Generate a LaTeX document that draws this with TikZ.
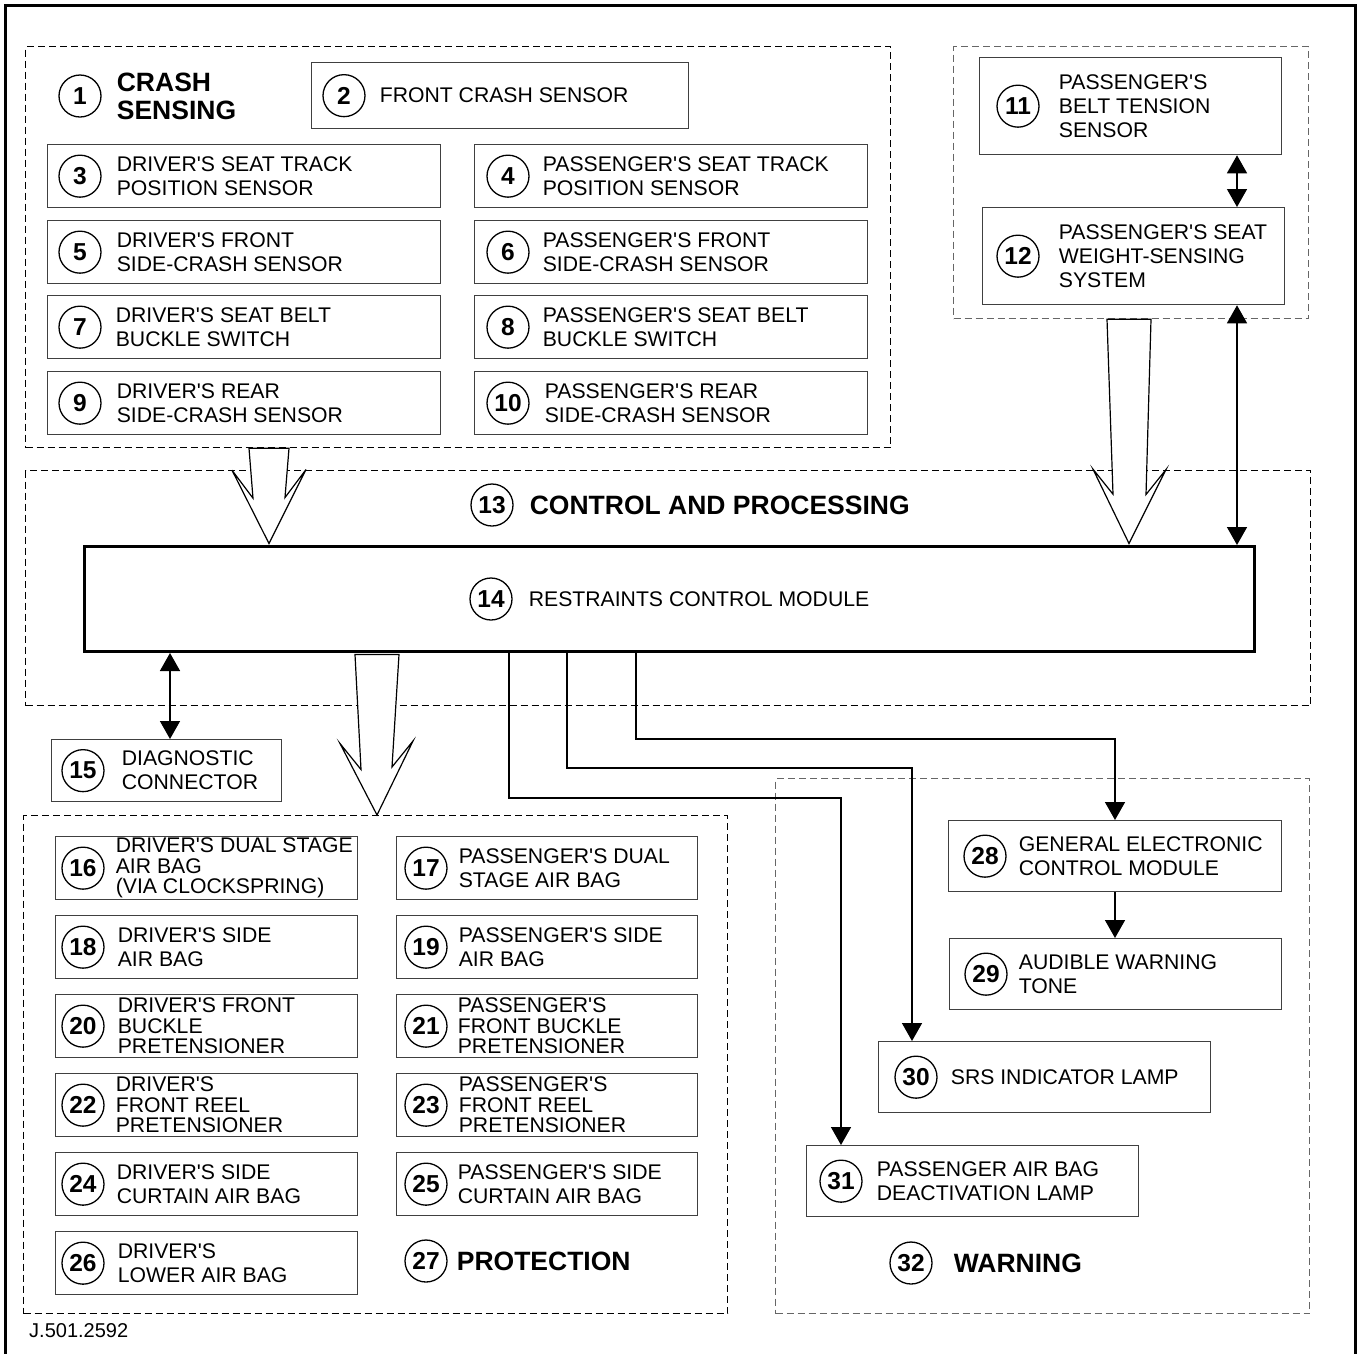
\documentclass[tikz,border=0pt]{standalone}
\usepackage{fontspec}
\setmainfont{Liberation Sans}[Ligatures=TeXOff]
\usepackage{tikz}
\usetikzlibrary{positioning, arrows.meta}

\tikzset{
    group/.style={draw, line width=1.2pt, dash pattern=on 7pt off 4pt, anchor=north west, inner sep=0pt},
    box/.style={draw=black!75, line width=1.3pt, anchor=north west, inner sep=0pt},
    num/.style={draw, circle, line width=1.3pt, minimum size=42pt, inner sep=0pt, font=\fontsize{24.5}{24}\selectfont\bfseries},
    lbl/.style={align=left, inner sep=0pt, font=\fontsize{21.2}{24}\selectfont},
    lblc/.style={align=left, inner sep=0pt, font=\fontsize{21.2}{20.5}\selectfont},
    head/.style={align=left, inner sep=0pt, font=\fontsize{26.5}{28}\selectfont\bfseries},
    conn/.style={line width=1.5pt},
    hollow/.style={draw, fill=white, line width=1.2pt}
}

\begin{document}
\begin{tikzpicture}[x=1pt, y=-1pt, >={Triangle[length=18pt,width=20pt]}]
    \useasboundingbox (0,0) rectangle (1359,1353);

    % Draw the outer frame, open at the bottom
    \draw[line width=3pt] (5,1365) -- (5,5) -- (1355,5) -- (1355,1365);

    % Draw the dashed group frames
    \node[group, minimum width=865, minimum height=401] (crash) at (25,46) {};
    \node[group, draw=black!60, minimum width=355, minimum height=272] (belt) at (953,46) {};
    \node[group, minimum width=1285, minimum height=235] (ctrl) at (25,470) {};
    \node[group, minimum width=704, minimum height=498] (protect) at (23,815) {};
    \node[group, draw=black!60, minimum width=534, minimum height=535] (warn) at (775,778) {};

    % Crash sensing
    \node[num] (n1) at (80,96) {1};
    \node[head, right=15pt of n1] (t1) {CRASH\\SENSING};
    \node[box, minimum width=377, minimum height=66] (b2) at (311,62) {};
    \node[num] (n2) at ([xshift=33]b2.west) {2};
    \node[lbl, right=14pt of n2] (t2) {FRONT CRASH SENSOR};
    \node[box, minimum width=393, minimum height=63] (b3) at (47,144) {};
    \node[num] (n3) at ([xshift=33]b3.west) {3};
    \node[lbl, right=15pt of n3] (t3) {DRIVER'S SEAT TRACK\\POSITION SENSOR};
    \node[box, minimum width=393, minimum height=63] (b4) at (474,144) {};
    \node[num] (n4) at ([xshift=34]b4.west) {4};
    \node[lbl, right=13pt of n4] (t4) {PASSENGER'S SEAT TRACK\\POSITION SENSOR};
    \node[box, minimum width=393, minimum height=63] (b5) at (47,220) {};
    \node[num] (n5) at ([xshift=33]b5.west) {5};
    \node[lbl, right=15pt of n5] (t5) {DRIVER'S FRONT\\SIDE-CRASH SENSOR};
    \node[box, minimum width=393, minimum height=63] (b6) at (474,220) {};
    \node[num] (n6) at ([xshift=34]b6.west) {6};
    \node[lbl, right=13pt of n6] (t6) {PASSENGER'S FRONT\\SIDE-CRASH SENSOR};
    \node[box, minimum width=393, minimum height=63] (b7) at (47,295) {};
    \node[num] (n7) at ([xshift=33]b7.west) {7};
    \node[lbl, right=14pt of n7] (t7) {DRIVER'S SEAT BELT\\BUCKLE SWITCH};
    \node[box, minimum width=393, minimum height=63] (b8) at (474,295) {};
    \node[num] (n8) at ([xshift=34]b8.west) {8};
    \node[lbl, right=13pt of n8] (t8) {PASSENGER'S SEAT BELT\\BUCKLE SWITCH};
    \node[box, minimum width=393, minimum height=63] (b9) at (47,371) {};
    \node[num] (n9) at ([xshift=33]b9.west) {9};
    \node[lbl, right=15pt of n9] (t9) {DRIVER'S REAR\\SIDE-CRASH SENSOR};
    \node[box, minimum width=393, minimum height=63] (b10) at (474,371) {};
    \node[num] (n10) at ([xshift=34]b10.west) {10};
    \node[lbl, right=15pt of n10] (t10) {PASSENGER'S REAR\\SIDE-CRASH SENSOR};

    % Belt tension and seat weight
    \node[box, minimum width=302, minimum height=97] (b11) at (979,57) {};
    \node[num] (n11) at ([xshift=39]b11.west) {11};
    \node[lbl, right=19pt of n11] (t11) {PASSENGER'S\\BELT TENSION\\SENSOR};
    \node[box, minimum width=302, minimum height=97] (b12) at (982,207) {};
    \node[num] (n12) at ([xshift=36]b12.west) {12};
    \node[lbl, right=19pt of n12] (t12) {PASSENGER'S SEAT\\WEIGHT-SENSING\\SYSTEM};

    % Control and processing
    \node[num] (n13) at (492,505) {13};
    \node[head, right=16pt of n13] (t13) {CONTROL AND PROCESSING};
    \node[box, draw=black, line width=3pt, minimum width=1170, minimum height=105] (b14) at (83,545) {};
    \node[num] (n14) at ([xshift=408]b14.west) {14};
    \node[lbl, right=16pt of n14] (t14) {RESTRAINTS CONTROL MODULE};
    \node[box, minimum width=230, minimum height=62] (b15) at (51,739) {};
    \node[num] (n15) at ([xshift=32]b15.west) {15};
    \node[lbl, right=17pt of n15] (t15) {DIAGNOSTIC\\CONNECTOR};

    % Draw the big hollow arrows into and out of the module
    \draw[hollow] (crash.south -| 249,0) -- ++(4,50) -- ++(-21,-28) -- ([yshift=1.5pt]b14.north -| 269,0) -- ++(37,-74) -- ++(-21,28) -- (crash.south -| 289,0) -- cycle;
    \draw[hollow] (belt.south -| 1107,0) -- ++(6,175) -- ++(-20,-25) -- ([yshift=1.5pt]b14.north -| 1129,0) -- ++(37,-74) -- ++(-20,25) -- (belt.south -| 1151,0) -- cycle;
    \draw[hollow] ([yshift=-1.5pt]b14.south -| 355,0) -- ++(6,115) -- ++(-21,-26) -- (protect.north -| 377,0) -- ++(36,-74) -- ++(-21,26) -- ([yshift=-1.5pt]b14.south -| 399,0) -- cycle;

    % Protection
    \node[box, minimum width=302, minimum height=63] (b16) at (55,836) {};
    \node[num] (n16) at ([xshift=28]b16.west) {16};
    \node[lblc, right=11pt of n16] (t16) {DRIVER'S DUAL STAGE\\AIR BAG\\(VIA CLOCKSPRING)};
    \node[box, minimum width=301, minimum height=63] (b17) at (396,836) {};
    \node[num] (n17) at ([xshift=30]b17.west) {17};
    \node[lbl, right=11pt of n17] (t17) {PASSENGER'S DUAL\\STAGE AIR BAG};
    \node[box, minimum width=302, minimum height=63] (b18) at (55,915) {};
    \node[num] (n18) at ([xshift=28]b18.west) {18};
    \node[lbl, right=13pt of n18] (t18) {DRIVER'S SIDE\\AIR BAG};
    \node[box, minimum width=301, minimum height=63] (b19) at (396,915) {};
    \node[num] (n19) at ([xshift=30]b19.west) {19};
    \node[lbl, right=11pt of n19] (t19) {PASSENGER'S SIDE\\AIR BAG};
    \node[box, minimum width=302, minimum height=63] (b20) at (55,994) {};
    \node[num] (n20) at ([xshift=28]b20.west) {20};
    \node[lblc, right=13pt of n20] (t20) {DRIVER'S FRONT\\BUCKLE\\PRETENSIONER};
    \node[box, minimum width=301, minimum height=63] (b21) at (396,994) {};
    \node[num] (n21) at ([xshift=30]b21.west) {21};
    \node[lblc, right=10pt of n21] (t21) {PASSENGER'S\\FRONT BUCKLE\\PRETENSIONER};
    \node[box, minimum width=302, minimum height=63] (b22) at (55,1073) {};
    \node[num] (n22) at ([xshift=28]b22.west) {22};
    \node[lblc, right=11pt of n22] (t22) {DRIVER'S\\FRONT REEL\\PRETENSIONER};
    \node[box, minimum width=301, minimum height=63] (b23) at (396,1073) {};
    \node[num] (n23) at ([xshift=30]b23.west) {23};
    \node[lblc, right=11pt of n23] (t23) {PASSENGER'S\\FRONT REEL\\PRETENSIONER};
    \node[box, minimum width=302, minimum height=63] (b24) at (55,1152) {};
    \node[num] (n24) at ([xshift=28]b24.west) {24};
    \node[lbl, right=12pt of n24] (t24) {DRIVER'S SIDE\\CURTAIN AIR BAG};
    \node[box, minimum width=301, minimum height=63] (b25) at (396,1152) {};
    \node[num] (n25) at ([xshift=30]b25.west) {25};
    \node[lbl, right=10pt of n25] (t25) {PASSENGER'S SIDE\\CURTAIN AIR BAG};
    \node[box, minimum width=302, minimum height=63] (b26) at (55,1231) {};
    \node[num] (n26) at ([xshift=28]b26.west) {26};
    \node[lbl, right=13pt of n26] (t26) {DRIVER'S\\LOWER AIR BAG};
    \node[num] (n27) at (426,1261) {27};
    \node[head, right=9pt of n27] (t27) {PROTECTION};

    % Warning
    \node[box, minimum width=333, minimum height=71] (b28) at (948,820) {};
    \node[num] (n28) at ([xshift=37]b28.west) {28};
    \node[lbl, right=12pt of n28] (t28) {GENERAL ELECTRONIC\\CONTROL MODULE};
    \node[box, minimum width=332, minimum height=71] (b29) at (949,938) {};
    \node[num] (n29) at ([xshift=37]b29.west) {29};
    \node[lbl, right=11pt of n29] (t29) {AUDIBLE WARNING\\TONE};
    \node[box, minimum width=332, minimum height=71] (b30) at (878,1041) {};
    \node[num] (n30) at ([xshift=38]b30.west) {30};
    \node[lbl, right=13pt of n30] (t30) {SRS INDICATOR LAMP};
    \node[box, minimum width=332, minimum height=71] (b31) at (806,1145) {};
    \node[num] (n31) at ([xshift=35]b31.west) {31};
    \node[lbl, right=14pt of n31] (t31) {PASSENGER AIR BAG\\DEACTIVATION LAMP};
    \node[num] (n32) at (911,1263) {32};
    \node[head, right=21pt of n32] (t32) {WARNING};

    % Draw the signal lines
    \draw[<->, conn] (b11.south -| 1237,0) -- (b12.north -| 1237,0);
    \draw[<->, conn] (b12.south -| 1237,0) -- (b14.north -| 1237,0);
    \draw[<->, conn] (b14.south -| 170,0) -- (b15.north -| 170,0);
    \draw[->, conn] (b14.south -| 509,0) |- (841,798) -- (b31.north -| 841,0);
    \draw[->, conn] (b14.south -| 567,0) |- (912,768) -- (b30.north -| 912,0);
    \draw[->, conn] (b14.south -| 636,0) |- (1115,739) -- (b28.north -| 1115,0);
    \draw[->, conn] (b28.south -| 1115,0) -- (b29.north -| 1115,0);

    % Drawing number
    \node[anchor=west, inner sep=0pt, font=\fontsize{20}{24}\selectfont] (code) at (29,1331) {J.501.2592};
\end{tikzpicture}
\end{document}
